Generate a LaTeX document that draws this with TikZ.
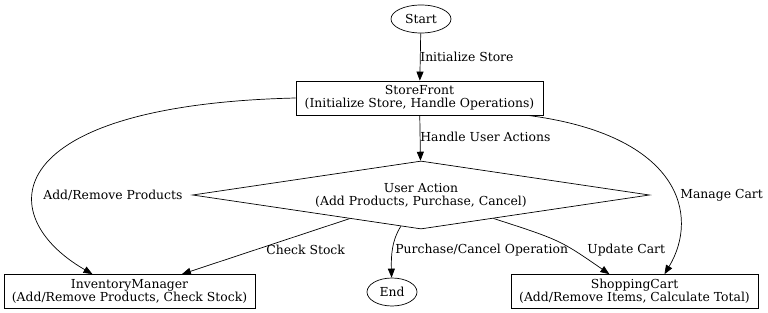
\documentclass[tikz,border=0pt]{standalone}
\usepackage{fontspec}
\setmainfont{DejaVu Serif}
\usetikzlibrary{shapes.geometric,arrows.meta}
\tikzset{
  box/.style={rectangle, draw, align=center, minimum height=34pt, inner xsep=4pt},
  term/.style={ellipse, draw, minimum width=60pt, minimum height=28pt, inner sep=0pt},
  choice/.style={diamond, draw, align=center, minimum width=457pt, minimum height=68pt, aspect=6.7, inner sep=0pt},
  edge/.style={-{Triangle[length=9pt,width=7pt]}},
  lbl/.style={anchor=west, inner sep=0pt},
}
\begin{document}
\begin{tikzpicture}[x=1pt, y=-1pt, line width=0.7pt, font=\fontsize{12.4}{13}\selectfont]
    \useasboundingbox (0,0) rectangle (768,313);
    % nodes
    \node[term] (start) at (421,19) {Start};
    \node[box, minimum width=247pt] (sf) at (419.5,98) {StoreFront\\(Initialize Store, Handle Operations)};
    \node[choice] (ua) at (421,195) {User Action\\(Add Products, Purchase, Cancel)};
    \node[box, minimum width=251pt] (inv) at (129.5,291.5) {InventoryManager\\(Add/Remove Products, Check Stock)};
    \node[term, minimum width=50pt] (end) at (392,292) {End};
    \node[box, minimum width=247pt] (cart) at (634.5,291.5) {ShoppingCart\\(Add/Remove Items, Calculate Total)};
    % edges
    \draw[edge] (start) -- (sf);
    \draw[edge] (sf) -- (ua);
    \draw[edge] (sf.west) .. controls (0,105) and (-10,215) .. ([xshift=-37pt]inv.north);
    \draw[edge] ([xshift=108pt]sf.south) .. controls (680,135) and (700,215) .. ([xshift=30pt]cart.north);
    \draw[edge] (ua) -- (inv);
    \draw[edge] (ua) .. controls (392,240) and (391,255) .. (end);
    \draw[edge] (ua) .. controls (560,240) .. (cart);
    % edge labels
    \node[lbl] (initlbl) at (420,57) {Initialize Store};
    \node[lbl] (handlelbl) at (420,137) {Handle User Actions};
    \node[lbl] (addlbl) at (43,195) {Add/Remove Products};
    \node[lbl] (managelbl) at (680,195) {Manage Cart};
    \node[lbl] (checklbl) at (266,250) {Check Stock};
    \node[lbl] (purchlbl) at (395,250) {Purchase/Cancel Operation};
    \node[lbl] (updatelbl) at (587,250) {Update Cart};
\end{tikzpicture}
\end{document}
